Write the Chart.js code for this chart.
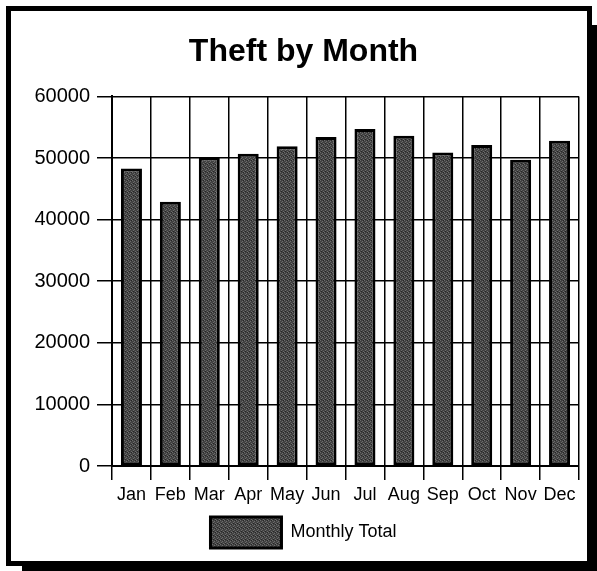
<!DOCTYPE html>
<html>
<head>
<meta charset="utf-8">
<script src="https://cdn.jsdelivr.net/npm/chart.js@4"></script>
<style>
  html,body{margin:0;padding:0;background:#fff;overflow:hidden}
  #wrap{position:relative;width:597px;height:571px}
  /* scanned card frame with heavy drop shadow */
  #frame{position:absolute;left:6px;top:6px;width:586px;height:560px;box-sizing:border-box;
    border:5px solid #000;background:#fff;box-shadow:16px 19px 0 #000}
  #box{position:absolute;left:0;top:0;width:597px;height:571px}
</style>
</head>
<body>
<div id="wrap">
  <div id="frame"></div>
  <div id="box"><canvas id="chart"></canvas></div>
</div>
<script>
// data
const months = ["Jan","Feb","Mar","Apr","May","Jun","Jul","Aug","Sep","Oct","Nov","Dec"];
const monthlyTotal = [48300, 42900, 50100, 50700, 51900, 53400, 54700, 53600, 50900, 52100, 49700, 52800];
const yTicks = [0, 10000, 20000, 30000, 40000, 50000, 60000];

// small halftone-like tile so bars look like the printed grey
function makeTexture(){
  const c = document.createElement('canvas');
  c.width = 4; c.height = 4;
  const g = c.getContext('2d');
  g.fillStyle = '#424242'; g.fillRect(0,0,4,4);
  g.fillStyle = '#6c6c6c';
  g.fillRect(0,0,1,1); g.fillRect(2,1,1,1); g.fillRect(1,2,1,1); g.fillRect(3,3,1,1);
  g.fillStyle = '#262626';
  g.fillRect(3,0,1,1); g.fillRect(1,3,1,1);
  return g.createPattern(c,'repeat');
}

Chart.defaults.font.family = '"Liberation Sans", Arial, Helvetica, sans-serif';
Chart.defaults.color = '#000';

const ctx = document.getElementById('chart').getContext('2d');
const tex = makeTexture();

new Chart(ctx, {
  type:'bar',
  data:{
    labels:months,
    datasets:[{
      label:'Monthly Total',
      data:monthlyTotal,
      backgroundColor:tex,
      borderColor:'#000',
      borderWidth:3,
      borderSkipped:false,
      categoryPercentage:1,
      barPercentage:0.54
    }]
  },
  options:{
    responsive:true, maintainAspectRatio:false, animation:false,
    layout:{padding:{left:28,right:18,top:6,bottom:13}},
    plugins:{
      title:{display:true,text:'Theft by Month',color:'#000',
        font:{size:32,weight:'bold'},padding:{top:27,bottom:25}},
      legend:{position:'bottom',
        labels:{boxWidth:71,boxHeight:31,color:'#000',font:{size:18},padding:10}},
      tooltip:{enabled:false}
    },
    scales:{
      x:{
        afterFit: s => { s.height = 41; },
        grid:{color:'#000',lineWidth:1.5,tickLength:14,offset:true},
        border:{color:'#000',width:2},
        ticks:{font:{size:18},color:'#000',padding:4,maxRotation:0,autoSkip:false}
      },
      y:{
        min:0,max:60000,
        afterBuildTicks: s => { s.ticks = yTicks.map(v=>({value:v})); },
        afterFit: s => { s.width = 84; },
        grid:{color:'#000',lineWidth:1.5,tickLength:15},
        border:{color:'#000',width:2},
        ticks:{font:{size:20},color:'#000',padding:7,callback:v=>String(v)}
      }
    }
  }
});
</script>
</body>
</html>
